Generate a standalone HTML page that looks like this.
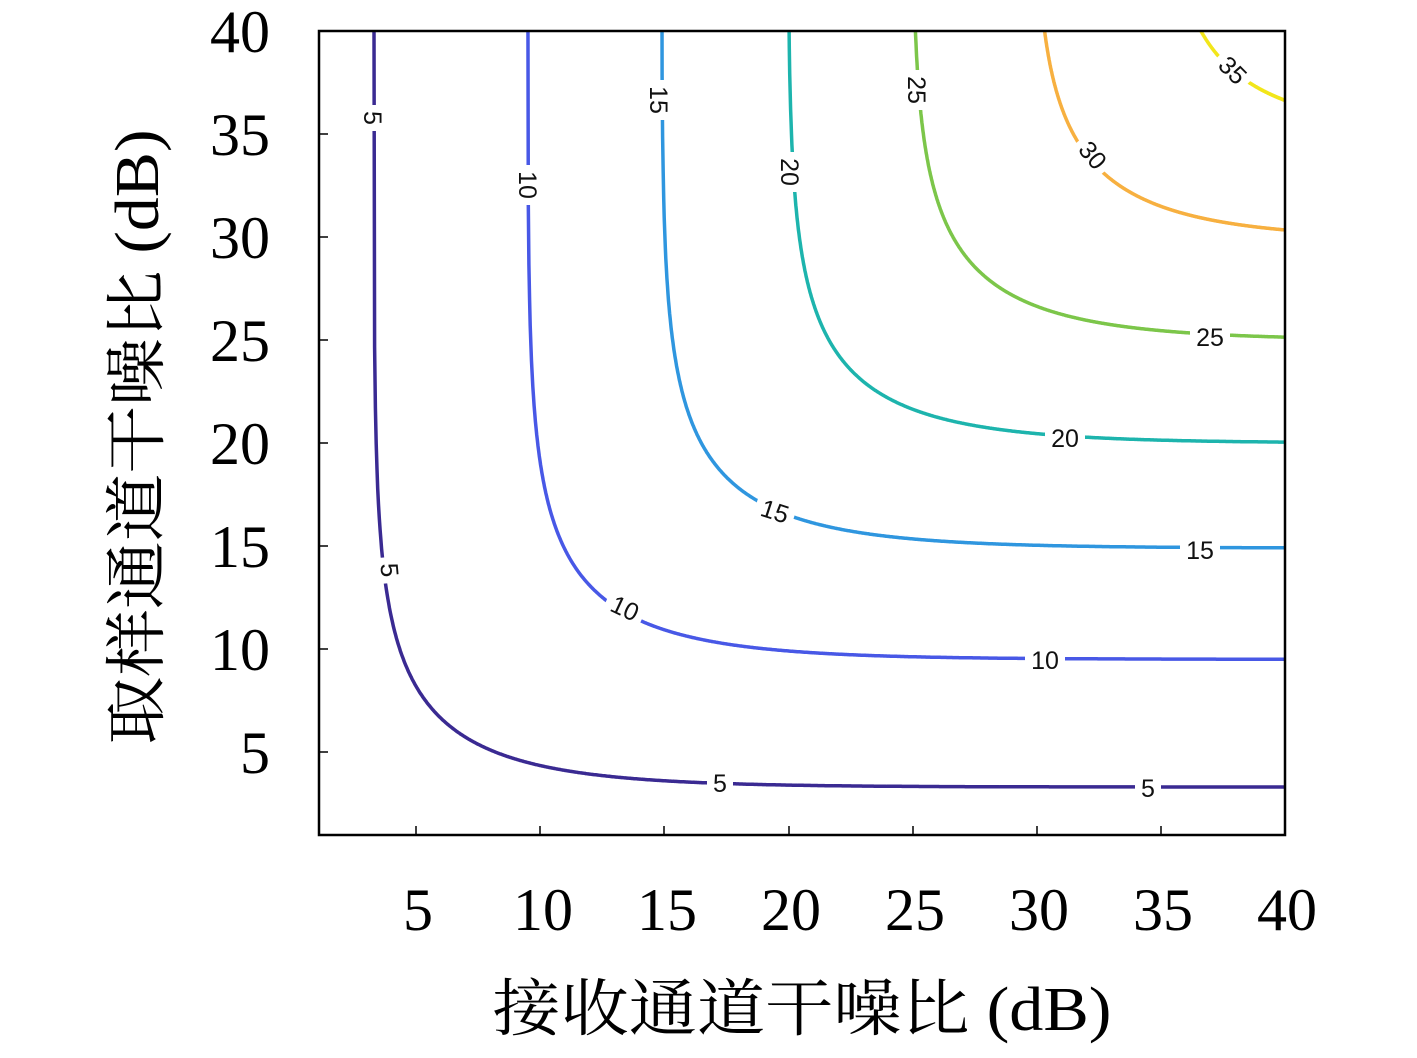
<!DOCTYPE html>
<html><head><meta charset="utf-8"><style>
html,body{margin:0;padding:0;background:#fff;}
svg{display:block;}
.t{font-family:"Liberation Serif","Noto Serif CJK SC",serif;font-size:60px;fill:#000;}
.c{font-family:"Liberation Serif","Noto Serif CJK SC",serif;font-size:62px;fill:#000;}
.l{font-family:"Liberation Sans",sans-serif;font-size:25px;fill:#111;}
</style></head><body>
<svg id="s" width="1417" height="1058" viewBox="0 0 1417 1058" xmlns="http://www.w3.org/2000/svg">
<defs><clipPath id="cp"><rect x="319" y="31" width="966" height="804"/></clipPath></defs>
<g id="curves" clip-path="url(#cp)"></g>
<g id="labels"></g>
<rect x="319" y="31" width="966" height="804" fill="none" stroke="#000" stroke-width="2.5"/>
<g stroke="#000" stroke-width="1.5">
<line x1="416" y1="835" x2="416" y2="826"/><line x1="540" y1="835" x2="540" y2="826"/>
<line x1="664" y1="835" x2="664" y2="826"/><line x1="789" y1="835" x2="789" y2="826"/>
<line x1="913" y1="835" x2="913" y2="826"/><line x1="1037" y1="835" x2="1037" y2="826"/>
<line x1="1161" y1="835" x2="1161" y2="826"/>
<line x1="319" y1="134" x2="328" y2="134"/><line x1="319" y1="237" x2="328" y2="237"/>
<line x1="319" y1="340" x2="328" y2="340"/><line x1="319" y1="443" x2="328" y2="443"/>
<line x1="319" y1="546" x2="328" y2="546"/><line x1="319" y1="649" x2="328" y2="649"/>
<line x1="319" y1="752" x2="328" y2="752"/>
</g>
<g class="t" text-anchor="end">
<text x="270" y="52">40</text><text x="270" y="155">35</text><text x="270" y="258">30</text>
<text x="270" y="361">25</text><text x="270" y="464">20</text><text x="270" y="567">15</text>
<text x="270" y="670">10</text><text x="270" y="773">5</text>
</g>
<g class="t" text-anchor="middle">
<text x="418" y="930">5</text><text x="543" y="930">10</text><text x="667" y="930">15</text>
<text x="791" y="930">20</text><text x="915" y="930">25</text><text x="1039" y="930">30</text>
<text x="1163" y="930">35</text><text x="1287" y="930">40</text>
</g>
<text class="c" x="802" y="1030" text-anchor="middle" textLength="619" lengthAdjust="spacingAndGlyphs">接收通道干噪比 (dB)</text>
<text class="c" transform="translate(158,437) rotate(-90)" x="0" y="0" text-anchor="middle" textLength="615" lengthAdjust="spacingAndGlyphs">取样通道干噪比 (dB)</text>
</svg>
<script>
var NS="http://www.w3.org/2000/svg";
function px(X){return 292+24.8*X;} function py(Y){return 855-20.6*Y;}
var lv=[[3.3,"#3a2a92"],[9.5,"#4858e6"],[14.9,"#2f96df"],[20,"#1db4ad"],[25.0,"#7cc64a"],[29.9,"#f7b040"],[35,"#f2e61a"]];
var g=document.getElementById("curves");
lv.forEach(function(l){var C=l[0],d="",first=true,c=Math.pow(10,-C/10);
 for(var i=0;i<=1200;i++){var X=C+0.0005+ i*(41-C)/1200*1; 
  var u=c-Math.pow(10,-X/10); if(u<=0)continue; var Y=-10*Math.log10(u); if(Y>60)continue;
  d+=(first?"M":"L")+px(X).toFixed(1)+","+py(Y).toFixed(1); first=false;}
 var p=document.createElementNS(NS,"path");p.setAttribute("d",d);p.setAttribute("fill","none");
 p.setAttribute("stroke",l[1]);p.setAttribute("stroke-width","3.5");g.appendChild(p);});
var L=[["5",373,118,90],["5",390,570,85],["5",720,783,0],["5",1148,788,0],
["10",528,185,90],["10",625,608,25],["10",1045,660,0],
["15",659,100,90],["15",775,511,18],["15",1200,550,0],
["20",790,172,90],["20",1065,438,0],["25",917,90,90],["25",1210,337,0],
["30",1093,155,50],["35",1233,70,45]];
var lg=document.getElementById("labels");
L.forEach(function(a){var gg=document.createElementNS(NS,"g");
 gg.setAttribute("transform","translate("+a[1]+","+a[2]+") rotate("+a[3]+")");
 var w=a[0].length*14+12;var r=document.createElementNS(NS,"rect");
 r.setAttribute("x",-w/2);r.setAttribute("y",-13);r.setAttribute("width",w);r.setAttribute("height",26);r.setAttribute("fill","#fff");
 var t=document.createElementNS(NS,"text");t.setAttribute("class","l");t.setAttribute("text-anchor","middle");t.setAttribute("y","9");t.textContent=a[0];
 gg.appendChild(r);gg.appendChild(t);lg.appendChild(gg);});
</script>
</body></html>
